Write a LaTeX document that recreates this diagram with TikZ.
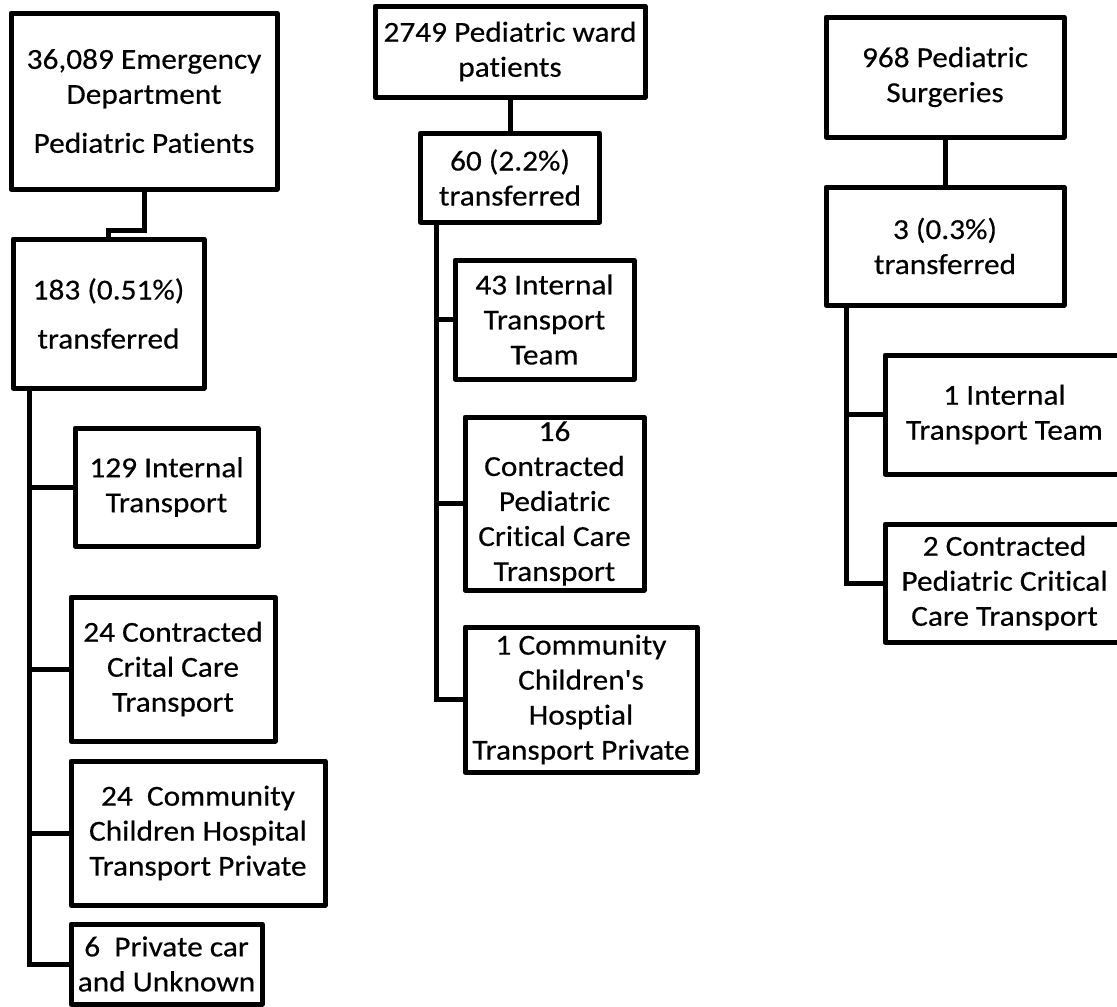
\documentclass[tikz,border=0pt]{standalone}
\usepackage{fontspec}
\setmainfont{Carlito}[FakeStretch=1.08, FakeBold=0.4, Ligatures={NoCommon,TeXOff}]
\newcommand\tiNL{t\kern0pt i}
\begin{document}
\begin{tikzpicture}[x=1pt,y=-1pt,
  bx/.style={draw, line width=5pt, rectangle, inner sep=0pt, align=center,
    line join=round, font=\fontsize{29}{35}\selectfont},
  link/.style={line width=5pt}]
\useasboundingbox (0,0) rectangle (1117,1007);
\clip (0,0) rectangle (1117,1007);
% ---------- left column ----------
\node[bx, minimum width=266pt, minimum height=176pt] (A) at (144,101)
  {36,089 Emergency\\Department\\[14pt]Pediatric Pa\tiNL ents};
\node[bx, minimum width=191pt, minimum height=149pt] (B) at (108.5,313.5)
  {183 (0.51\%)\\[14pt]transferred};
\node[bx, minimum width=183pt, minimum height=118pt] (L1) at (166.5,487)
  {129 Internal\\Transport};
\node[bx, minimum width=204pt, minimum height=144pt] (L2) at (173,669)
  {24 Contracted\\Crital Care\\Transport};
\node[bx, minimum width=254pt, minimum height=144pt] (L3) at (198,833)
  {24\ \ Community\\Children Hospital\\Transport Private};
\node[bx, minimum width=191pt, minimum height=80pt] (L4) at (166.5,964)
  {6\ \ Private car\\and Unknown};
\draw[link] (A.south) -- ++(0,39) -| (B.north);
\coordinate (BT) at ([xshift=19pt]B.south west);
\draw[link] (BT) |- (L1.west);
\draw[link] (BT) |- (L2.west);
\draw[link] (BT) |- (L3.west);
\draw[link] (BT) |- (L4.west);
% ---------- middle column ----------
\node[bx, minimum width=270pt, minimum height=91pt] (M0) at (510,51.5)
  {2749 Pediatric ward\\pa\tiNL ents};
\node[bx, minimum width=179pt, minimum height=89pt] (M1) at (510,177.5)
  {60 (2.2\%)\\transferred};
\node[bx, minimum width=179pt, minimum height=119pt] (M2) at (544.5,319.5)
  {43 Internal\\Transport\\Team};
\node[bx, minimum width=179pt, minimum height=173pt] (M3) at (554.5,503.5)
  {16\\Contracted\\Pediatric\\Cri\tiNL cal Care\\Transport};
\node[bx, minimum width=232pt, minimum height=145pt] (M4) at (581,699.5)
  {1 Community\\Children's\\Hosp\tiNL al\\Transport Private};
\draw[link] (M0.south) -- (M1.north);
\coordinate (MT) at ([xshift=18pt]M1.south west);
\draw[link] (MT) |- (M2.west);
\draw[link] (MT) |- (M3.west);
\draw[link] (MT) |- (M4.west);
% ---------- right column ----------
\node[bx, minimum width=238pt, minimum height=120pt] (R0) at (945,77)
  {968 Pediatric\\Surgeries};
\node[bx, minimum width=238pt, minimum height=118pt] (R1) at (945,246)
  {3 (0.3\%)\\transferred};
\node[bx, minimum width=239pt, minimum height=119pt] (R2) at (1004.5,414.5)
  {1 Internal\\Transport Team};
\node[bx, minimum width=239pt, minimum height=118pt] (R3) at (1004.5,583)
  {2 Contracted\\Pediatric Cri\tiNL cal\\Care Transport};
\draw[link] (R0.south) -- (R1.north);
\coordinate (RT) at ([xshift=23pt]R1.south west);
\draw[link] (RT) |- (R2.west);
\draw[link] (RT) |- (R3.west);
\end{tikzpicture}
\end{document}
